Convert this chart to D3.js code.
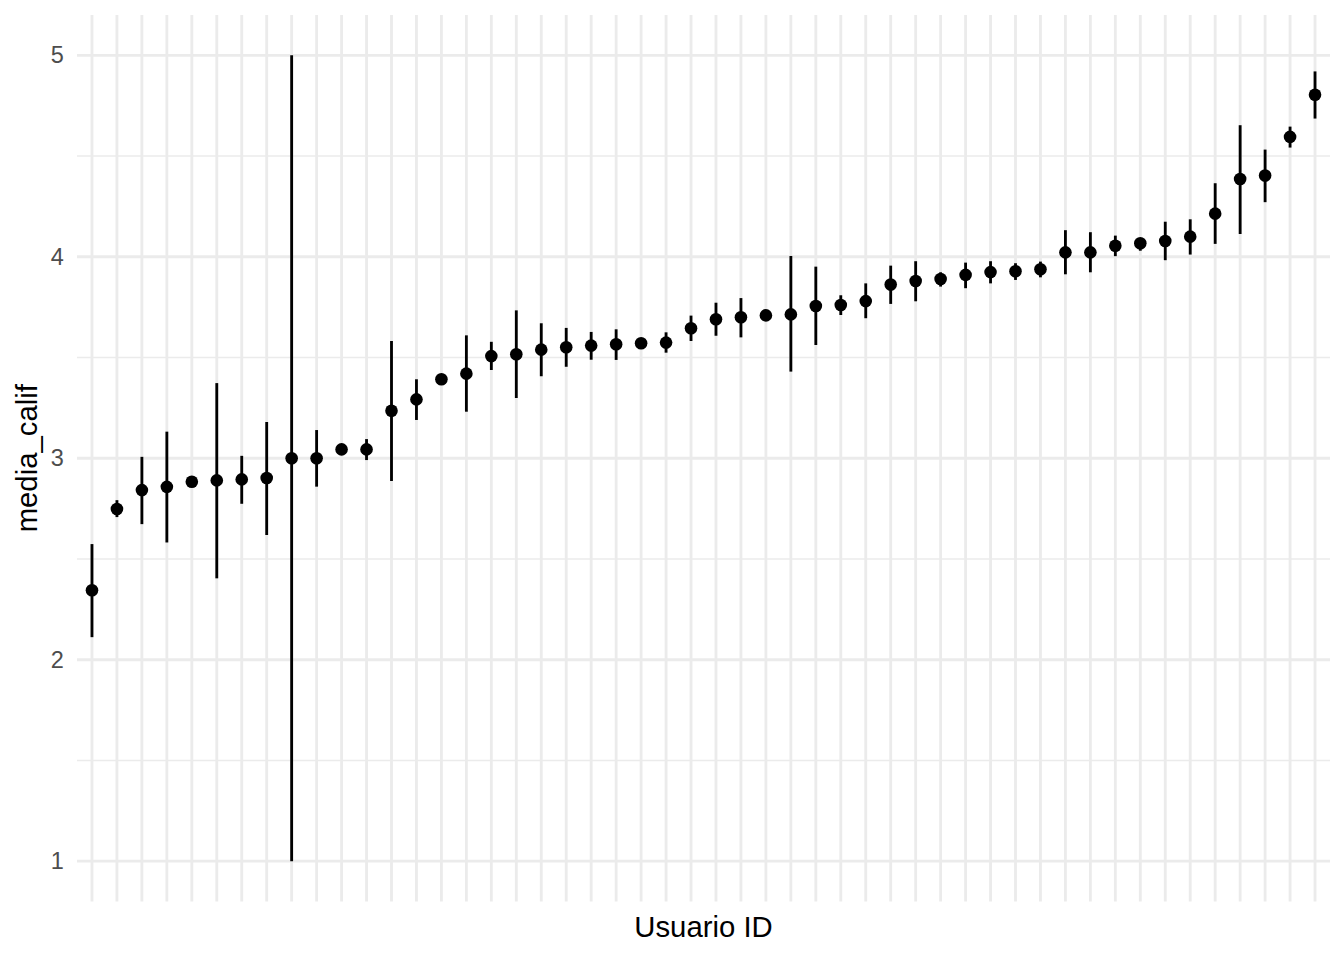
<!DOCTYPE html>
<html>
<head>
<meta charset="utf-8">
<script src="https://cdn.jsdelivr.net/npm/d3@7"></script>
<style>
  html, body { margin: 0; padding: 0; background: #ffffff; }
  svg { display: block; }
  text { font-family: "Liberation Sans", Arial, Helvetica, sans-serif; }
</style>
</head>
<body>
<svg id="chart" width="1344" height="960"></svg>
<script>
// ---- data ----
const categories = d3.range(1, 51).map(i => "U" + i);
const mediaCalif = [2.345, 2.748, 2.842, 2.858, 2.883, 2.890, 2.895, 2.902, 3.000, 3.000,
  3.044, 3.044, 3.236, 3.292, 3.392, 3.420, 3.507, 3.516, 3.539, 3.551,
  3.559, 3.566, 3.571, 3.574, 3.645, 3.690, 3.700, 3.709, 3.714, 3.756,
  3.761, 3.780, 3.862, 3.880, 3.890, 3.910, 3.924, 3.928, 3.938, 4.022,
  4.022, 4.055, 4.067, 4.078, 4.100, 4.214, 4.386, 4.403, 4.595, 4.804];
const lowerVals = [2.112, 2.708, 2.673, 2.582, 2.883, 2.404, 2.774, 2.619, 1.000, 2.859,
  3.044, 2.991, 2.887, 3.190, 3.392, 3.231, 3.438, 3.299, 3.407, 3.454,
  3.489, 3.488, 3.571, 3.524, 3.582, 3.608, 3.600, 3.709, 3.430, 3.562,
  3.711, 3.695, 3.766, 3.779, 3.852, 3.844, 3.868, 3.885, 3.898, 3.913,
  3.923, 4.003, 4.030, 3.983, 4.011, 4.064, 4.113, 4.271, 4.542, 4.686];
const upperVals = [2.574, 2.792, 3.007, 3.132, 2.883, 3.373, 3.012, 3.180, 5.000, 3.140,
  3.044, 3.095, 3.582, 3.392, 3.392, 3.610, 3.578, 3.734, 3.670, 3.647,
  3.627, 3.640, 3.571, 3.625, 3.708, 3.772, 3.795, 3.709, 4.004, 3.951,
  3.809, 3.868, 3.956, 3.978, 3.923, 3.971, 3.978, 3.968, 3.976, 4.132,
  4.122, 4.105, 4.092, 4.174, 4.186, 4.365, 4.653, 4.532, 4.646, 4.920];
const yTicks = [1, 2, 3, 4, 5];
const yMinorTicks = [1.5, 2.5, 3.5, 4.5];
const xTitle = "Usuario ID";
const yTitle = "media_calif";

const data = categories.map((c, i) => ({ id: c, mean: mediaCalif[i], lo: lowerVals[i], hi: upperVals[i] }));

// ---- layout ----
const panel = { left: 77, right: 1330, top: 15, bottom: 901.5 };
const svg = d3.select("#chart");

const x = d3.scalePoint().domain(categories).range([panel.left, panel.right]).padding(0.6);
const y = d3.scaleLinear().domain([0.8, 5.2]).range([panel.bottom, panel.top]);

const grid = svg.append("g");
// minor horizontal
grid.selectAll("line.minor").data(yMinorTicks).join("line")
  .attr("x1", panel.left).attr("x2", panel.right)
  .attr("y1", d => y(d)).attr("y2", d => y(d))
  .attr("stroke", "#EBEBEB").attr("stroke-width", 1.42);
// major horizontal
grid.selectAll("line.majorY").data(yTicks).join("line")
  .attr("x1", panel.left).attr("x2", panel.right)
  .attr("y1", d => y(d)).attr("y2", d => y(d))
  .attr("stroke", "#EBEBEB").attr("stroke-width", 2.84);
// major vertical
svg.append("g").selectAll("line").data(categories).join("line")
  .attr("x1", d => x(d)).attr("x2", d => x(d))
  .attr("y1", panel.top).attr("y2", panel.bottom)
  .attr("stroke", "#EBEBEB").attr("stroke-width", 2.84);

// y axis labels
const yAxis = d3.axisLeft(y).tickValues(yTicks).tickSize(0).tickPadding(13.2).tickFormat(d3.format("d"));
const yAxisG = svg.append("g").attr("transform", `translate(${panel.left},0)`).call(yAxis);
yAxisG.select(".domain").remove();
yAxisG.selectAll("text")
  .attr("fill", "#4D4D4D")
  .style("font-size", "23.5px")
  .style("font-family", "'Liberation Sans', Arial, sans-serif");

// error bars
svg.append("g").selectAll("line").data(data).join("line")
  .attr("x1", d => x(d.id)).attr("x2", d => x(d.id))
  .attr("y1", d => y(d.lo)).attr("y2", d => y(d.hi))
  .attr("stroke", "#000").attr("stroke-width", 2.84);

// points
svg.append("g").selectAll("circle").data(data).join("circle")
  .attr("cx", d => x(d.id)).attr("cy", d => y(d.mean))
  .attr("r", 6.3).attr("fill", "#000");

// titles
svg.append("text")
  .attr("x", (panel.left + panel.right) / 2).attr("y", 937)
  .attr("text-anchor", "middle")
  .style("font-size", "29.3px").attr("fill", "#000")
  .text(xTitle);

svg.append("text")
  .attr("transform", `translate(37,${(panel.top + panel.bottom) / 2}) rotate(-90)`)
  .attr("text-anchor", "middle")
  .style("font-size", "29.3px").attr("fill", "#000")
  .text(yTitle);
</script>
</body>
</html>
